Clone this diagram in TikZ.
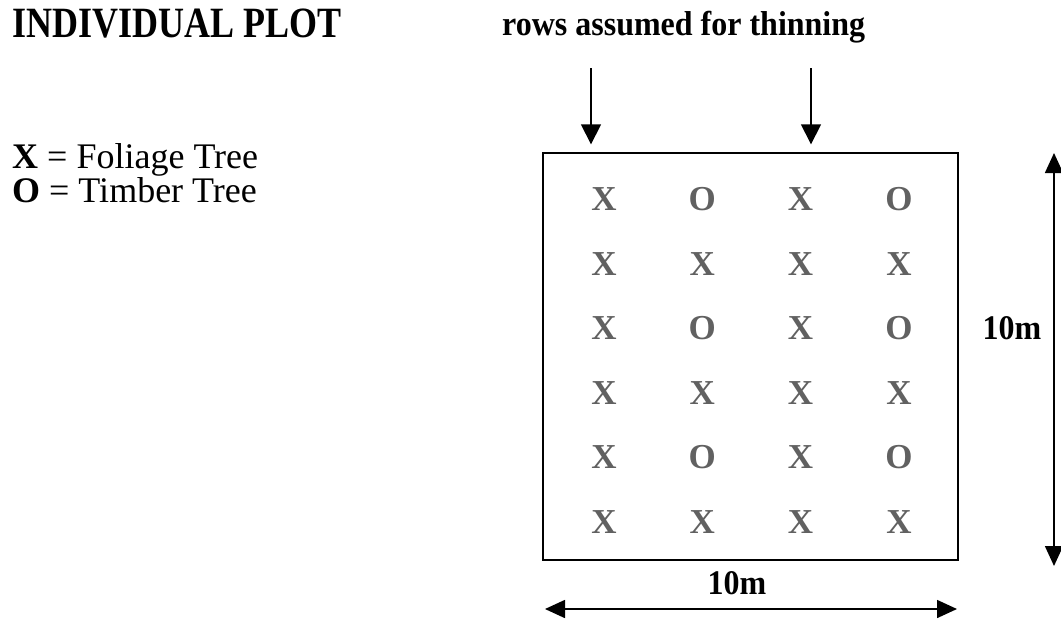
\documentclass[tikz,border=0pt]{standalone}
\usepackage{fontspec}
\setmainfont{Liberation Serif}
\usetikzlibrary{positioning,arrows.meta}

\begin{document}
\begin{tikzpicture}[x=1pt,y=-1pt,
        tree/.style = {text=black!62, font=\fontsize{35}{35}\selectfont\bfseries, inner sep=0pt},
        lbl/.style = {font=\fontsize{32}{32}\selectfont\bfseries, inner sep=0pt},
        arr/.style = {line width=1.6pt, -{Triangle[length=20pt,width=20pt]}},
        dim/.style = {line width=1.6pt, {Triangle[length=20pt,width=18pt]}-{Triangle[length=20pt,width=18pt]}},
        node distance={64.6pt and 98.3pt}, on grid]
        \useasboundingbox (0,0) rectangle (1061,625);
        \node[anchor=base west, inner sep=0pt, font=\fontsize{36}{36}\selectfont\bfseries] (title) at (12,37) {\scalebox{1}[1.2]{INDIVIDUAL PLOT}};
        \node[anchor=base west, inner sep=0pt, font=\fontsize{36}{36}\selectfont] (key1) at (12,168) {\textbf{X} = Foliage Tree};
        \node[anchor=base west, inner sep=0pt, font=\fontsize{36}{36}\selectfont] (key2) at (12,202) {\textbf{O} = Timber Tree};
        \node[lbl, anchor=base west] (rows) at (502,35) {\scalebox{1}[1.08]{rows assumed for thinning}};
        % the plot
        \node[draw, line width=1.4pt, minimum width=415pt, minimum height=407pt, inner sep=0pt] (plot) at (750.5,356.5) {};
        \node[tree] (11) at (604,199) {X};
        \node[tree] (12) [right=of 11] {O};
        \node[tree] (13) [right=of 12] {X};
        \node[tree] (14) [right=of 13] {O};
        \node[tree] (21) [below=of 11] {X};
        \node[tree] (22) [right=of 21] {X};
        \node[tree] (23) [right=of 22] {X};
        \node[tree] (24) [right=of 23] {X};
        \node[tree] (31) [below=of 21] {X};
        \node[tree] (32) [right=of 31] {O};
        \node[tree] (33) [right=of 32] {X};
        \node[tree] (34) [right=of 33] {O};
        \node[tree] (41) [below=of 31] {X};
        \node[tree] (42) [right=of 41] {X};
        \node[tree] (43) [right=of 42] {X};
        \node[tree] (44) [right=of 43] {X};
        \node[tree] (51) [below=of 41] {X};
        \node[tree] (52) [right=of 51] {O};
        \node[tree] (53) [right=of 52] {X};
        \node[tree] (54) [right=of 53] {O};
        \node[tree] (61) [below=of 51] {X};
        \node[tree] (62) [right=of 61] {X};
        \node[tree] (63) [right=of 62] {X};
        \node[tree] (64) [right=of 63] {X};
        % arrows and sizes
        \coordinate (t1) at (591,68);
        \coordinate (t2) at (811,68);
        \draw[arr] (t1) -- ([yshift=8pt]plot.north -| t1);
        \draw[arr] (t2) -- ([yshift=8pt]plot.north -| t2);
        \coordinate (w1) at (545,609);
        \coordinate (w2) at (957,609);
        \draw[dim] (w1) -- (w2);
        \node[lbl] (width) at (737,583) {\scalebox{1}[1.08]{10m}};
        \coordinate (h1) at (1054,153);
        \coordinate (h2) at (1054,566);
        \draw[dim] (h1) -- (h2);
        \node[lbl] (height) at (1012,328) {\scalebox{1}[1.08]{10m}};
\end{tikzpicture}
\end{document}
